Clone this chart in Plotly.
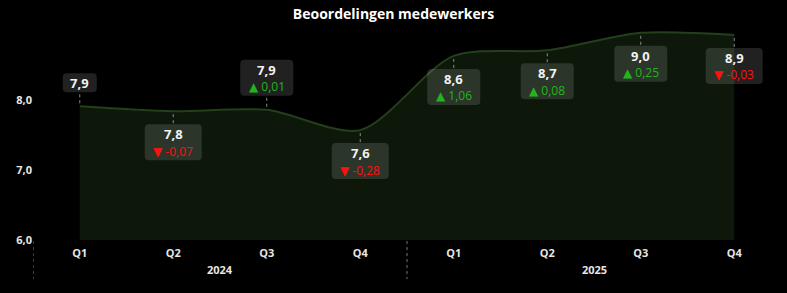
import plotly.graph_objects as go

quarters = ["Q1", "Q2", "Q3", "Q4", "Q1", "Q2", "Q3", "Q4"]
years = ["2024", "2025"]
scores = [7.91, 7.84, 7.86, 7.57, 8.63, 8.71, 8.96, 8.93]
deltas = [None, -0.07, 0.01, -0.28, 1.06, 0.08, 0.25, -0.03]
label_above = [True, False, True, False, False, False, False, False]
y_ticks = [6, 7, 8]

FONT = "Open Sans, Segoe UI, sans-serif"
GREEN = "#22b41e"
RED = "#ff1010"
x = list(range(len(scores)))


def fmt(v, d=1):
    return f"{v:.{d}f}".replace(".", ",")


fig = go.Figure()
fig.add_trace(go.Scatter(
    x=x, y=scores, mode="lines", line=dict(color="#22401a", width=2, shape="spline", smoothing=0.8),
    fill="tozeroy", fillcolor="#0d180a", hoverinfo="skip", showlegend=False,
))

shapes = []
annotations = []


def rounded(w, yb, yt, r=4):
    x0, x1 = -w / 2, w / 2
    return (f"M {x0+r},{yb} L {x1-r},{yb} Q {x1},{yb} {x1},{yb+r} L {x1},{yt-r} Q {x1},{yt} {x1-r},{yt} "
            f"L {x0+r},{yt} Q {x0},{yt} {x0},{yt-r} L {x0},{yb+r} Q {x0},{yb} {x0+r},{yb} Z")


for i, (v, d, above) in enumerate(zip(scores, deltas, label_above)):
    two = d is not None
    h = 36 if two else 19
    if two:
        w = 57 if d < 0 else 53
    else:
        w = 34
    gap = 13
    if above:
        yb, yt = gap + 1, gap + 1 + h
        c0, c1 = 3, gap
    else:
        yb, yt = -gap - h, -gap
        c0, c1 = -3, -gap
    c = (yb + yt) / 2
    shapes.append(dict(type="path", xref="x", yref="y", xsizemode="pixel", ysizemode="pixel",
                       xanchor=i, yanchor=v, path=rounded(w, yb, yt),
                       fillcolor="rgba(255,255,255,0.13)", line=dict(width=0), layer="above"))
    shapes.append(dict(type="line", xref="x", yref="y", xsizemode="pixel", ysizemode="pixel",
                       xanchor=i, yanchor=v, x0=0, x1=0, y0=c0, y1=c1,
                       line=dict(color="#8a8a8a", width=1, dash="dot"), layer="above"))
    if two:
        annotations.append(dict(x=i, y=v, xref="x", yref="y", showarrow=False, yshift=c + 8,
                                yanchor="middle",
                                text=f"<b>{fmt(v)}</b>", font=dict(family=FONT, size=13, color="#f2f2f2")))
        sym = "▲" if d >= 0 else "▼"
        col = GREEN if d >= 0 else RED
        annotations.append(dict(x=i, y=v, xref="x", yref="y", showarrow=False, yshift=c - 9,
                                yanchor="middle",
                                text=f"<span style='font-family:DejaVu Sans'>{sym}</span> {fmt(d, 2)}",
                                font=dict(family=FONT, size=12, color=col)))
    else:
        annotations.append(dict(x=i, y=v, xref="x", yref="y", showarrow=False, yshift=c,
                                yanchor="middle",
                                text=f"<b>{fmt(v)}</b>", font=dict(family=FONT, size=13, color="#f2f2f2")))

for k, yr in enumerate(years):
    annotations.append(dict(x=k * 4 + 1.5, y=0, xref="x", yref="paper", yshift=-29, yanchor="middle",
                            showarrow=False,
                            text=f"<b>{yr}</b>", font=dict(family=FONT, size=11, color="#e6e6e6")))
for xd in [-0.5, 3.5]:
    shapes.append(dict(type="line", xref="x", yref="paper", x0=xd, x1=xd, y0=-0.005, y1=-0.186,
                       line=dict(color="#777777", width=1, dash="dot")))

fig.update_layout(
    width=787, height=293, margin=dict(l=33, r=6, t=30, b=53),
    paper_bgcolor="#000000", plot_bgcolor="#000000",
    separators=", ",
    title=dict(text="<b>Beoordelingen medewerkers</b>", x=0.5, xref="container", xanchor="center",
               y=1 - 14 / 293, yanchor="middle", font=dict(family=FONT, size=14, color="#ffffff")),
    xaxis=dict(range=[-0.5, 7.5], tickvals=x, ticktext=quarters, showgrid=False, zeroline=False,
               showline=False, ticks="", ticklabelstandoff=5,
               tickfont=dict(family=FONT, size=11, color="#e6e6e6", weight="bold")),
    yaxis=dict(range=[6, 9], tickvals=y_ticks, tickformat=".1f", showgrid=False, zeroline=False,
               showline=False, ticks="", tickfont=dict(family=FONT, size=11, color="#e6e6e6", weight="bold")),
    shapes=shapes, annotations=annotations, showlegend=False,
)
fig.write_html("out.html")
